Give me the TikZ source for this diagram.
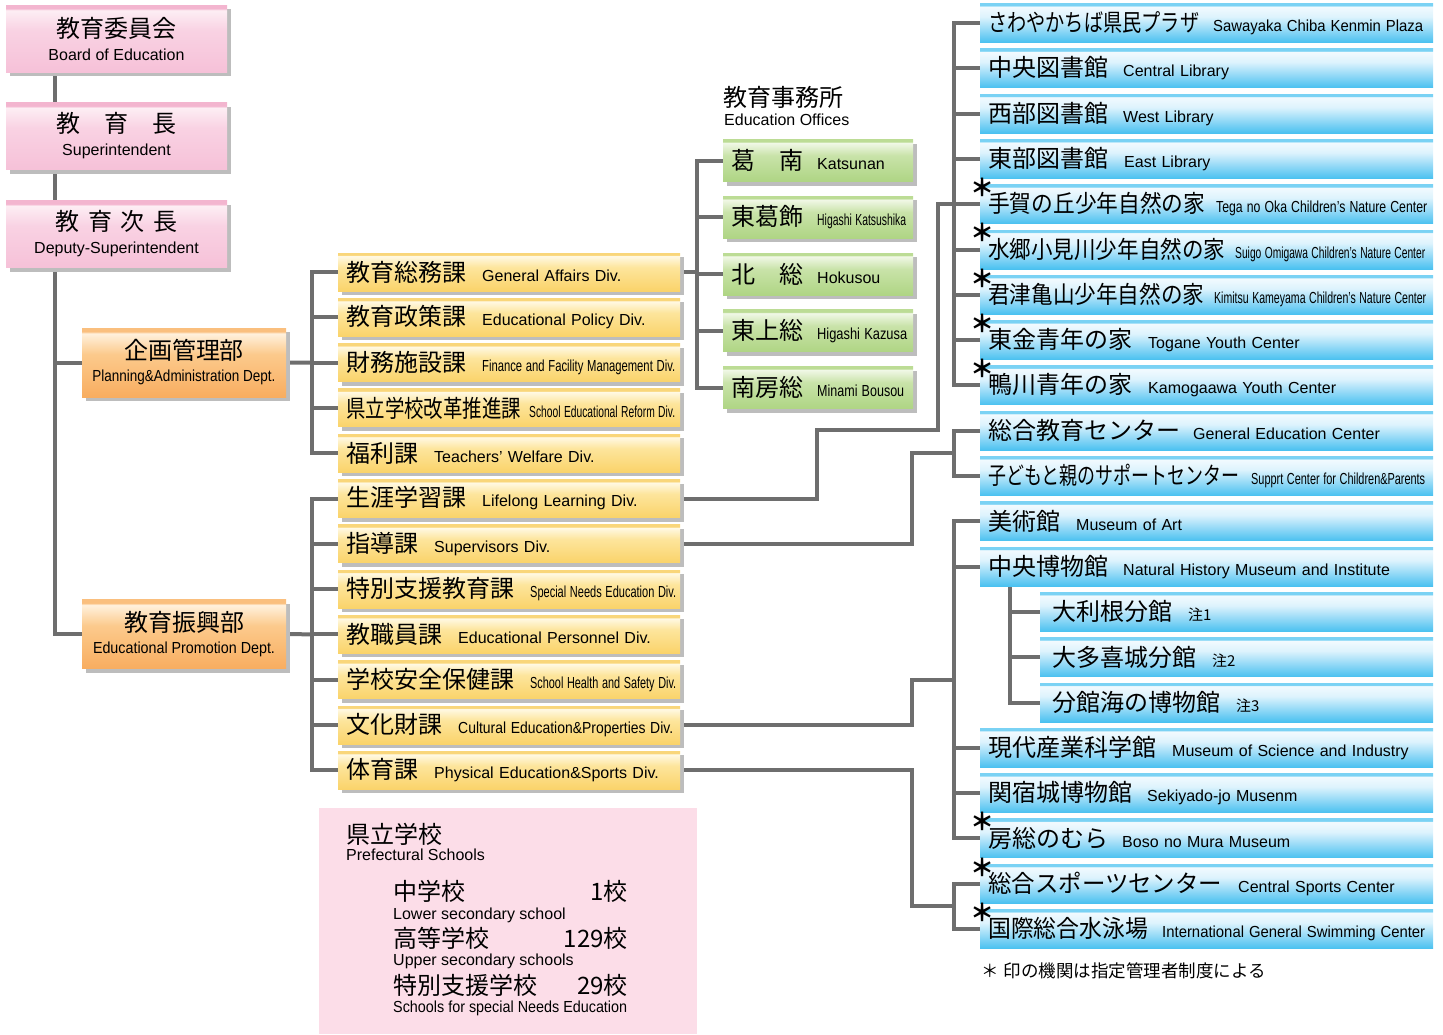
\documentclass[tikz,border=0pt]{standalone}
\usepackage{fontspec}
\usepackage{graphicx}
\usepackage{tikz}
\usetikzlibrary{shadows}
\setmainfont{Liberation Sans}
\newfontfamily\jpfont{Noto Sans CJK JP}

\definecolor{linegray}{HTML}{6E6E6E}
\definecolor{shadowgray}{HTML}{BDBDBD}
\definecolor{schoolpink}{HTML}{FCDDE8}
\definecolor{pinkA}{HTML}{F6C1D8}\definecolor{pinkB}{HTML}{F9D2E3}\definecolor{pinkC}{HTML}{FDEEF4}\definecolor{pinkD}{HTML}{F3B5CF}
\definecolor{orangeA}{HTML}{F8AD60}\definecolor{orangeB}{HTML}{FCCA8C}\definecolor{orangeC}{HTML}{FFF1DD}\definecolor{orangeD}{HTML}{FABF7E}
\definecolor{yellowA}{HTML}{FAD36A}\definecolor{yellowB}{HTML}{FDE59C}\definecolor{yellowC}{HTML}{FFF9E4}\definecolor{yellowD}{HTML}{F9D67A}
\definecolor{greenA}{HTML}{AFD584}\definecolor{greenB}{HTML}{C9E3A9}\definecolor{greenC}{HTML}{F1F8E7}\definecolor{greenD}{HTML}{BCDC95}
\definecolor{blueA}{HTML}{4AC1F0}\definecolor{blueB}{HTML}{8DD7F6}\definecolor{blueC}{HTML}{DDF3FD}\definecolor{blueE}{HTML}{F2FAFE}\definecolor{blueD}{HTML}{7AD2F4}

% bottom, middle, light top, top stripe
\newcommand\boxshading[5]{\pgfdeclareverticalshading{#1}{100bp}{color(0bp)=(#2); color(25bp)=(#2); color(56bp)=(#3); color(71bp)=(#4); color(72.5bp)=(#5); color(100bp)=(#5)}}
\boxshading{pinkshade}{pinkA}{pinkB}{pinkC}{pinkD}
\boxshading{orangeshade}{orangeA}{orangeB}{orangeC}{orangeD}
\boxshading{yellowshade}{yellowA}{yellowB}{yellowC}{yellowD}
\boxshading{greenshade}{greenA}{greenB}{greenC}{greenD}
\pgfdeclareverticalshading{blueshade}{100bp}{color(0bp)=(blueA); color(25bp)=(blueA); color(40bp)=(blueB); color(58bp)=(blueC); color(71bp)=(blueE); color(72.5bp)=(blueD); color(100bp)=(blueD)}

\newcommand\jp[1]{{\jpfont\fontsize{24}{24}\selectfont #1}}
\newcommand\en[1]{\mbox{\fontsize{16}{18}\selectfont #1}}
\newcommand\jw[2]{\makebox[#1pt][l]{\jp{#2}}}
\newcommand\js[3]{\makebox[#1pt][l]{\resizebox{#2pt}{\height}{\jp{#3}}}}
\newcommand\ew[2]{\resizebox{#1pt}{\height}{\en{#2}}}
\newcommand\chu[1]{{\jpfont\fontsize{15}{15}\selectfont #1}}

\pgfdeclarelayer{bg}
\pgfsetlayers{bg,main}

\tikzset{
  conn/.style={draw=linegray, line width=4pt},
  boxshadow/.style={drop shadow={shadow xshift=4pt, shadow yshift=-4pt, fill=shadowgray, opacity=1}},
  pinkbox/.style={shade, shading=pinkshade, boxshadow, minimum width=221pt, minimum height=67pt, inner sep=0pt, align=center, font=\fontsize{16}{23}\selectfont},
  deptbox/.style={shade, shading=orangeshade, boxshadow, minimum width=204pt, minimum height=69pt, inner sep=0pt, align=center, font=\fontsize{16}{22}\selectfont},
  divbox/.style={shade, shading=yellowshade, boxshadow, anchor=west, text width=326pt, minimum height=38pt, inner xsep=8pt, inner ysep=0pt, align=left, font=\fontsize{16}{18}\selectfont},
  officebox/.style={shade, shading=greenshade, boxshadow, anchor=west, text width=174pt, minimum height=42pt, inner xsep=8pt, inner ysep=0pt, align=left, font=\fontsize{16}{18}\selectfont},
  orgbox/.style={shade, shading=blueshade, anchor=west, text width=437pt, minimum height=39pt, inner xsep=8pt, inner ysep=0pt, align=left, font=\fontsize{16}{18}\selectfont},
  subbox/.style={orgbox, text width=369pt, inner xsep=12pt},
  ast/.style={inner sep=0pt, font=\jpfont\bfseries\fontsize{24}{24}\selectfont},
  schtext/.style={anchor=base west, inner sep=0pt},
  schnum/.style={anchor=base east, inner sep=0pt},
}

\begin{document}
\begin{tikzpicture}[x=1pt,y=-1pt]
\useasboundingbox (0,0) rectangle (1443,1034);

% executives
\node[pinkbox] (board) at (116.5,38.5) {\jp{教育委員会}\\ \en{Board of Education}};
\node[pinkbox] (super) at (116.5,136) {\jp{教　育　長}\\ \en{Superintendent}};
\node[pinkbox] (deputy) at (116.5,234) {\jp{教\hspace{8.5pt}育\hspace{8.5pt}次\hspace{8.5pt}長}\\ \en{Deputy-Superintendent}};

% departments
\node[deptbox] (plan) at (184,362.5) {\jp{企画管理部}\\ \ew{183}{Planning\&Administration Dept.}};
\node[deptbox] (promo) at (184,634) {\jp{教育振興部}\\ \ew{182}{Educational Promotion Dept.}};

% divisions
\node[divbox] (d1) at (338,272) {\jw{136}{教育総務課}\en{General Affairs Div.}};
\node[divbox] (d2) at (338,317.3) {\jw{136}{教育政策課}\en{Educational Policy Div.}};
\node[divbox] (d3) at (338,362.6) {\jw{136}{財務施設課}\ew{193}{Finance and Facility Management Div.}};
\node[divbox] (d4) at (338,407.9) {\js{183}{175}{県立学校改革推進課}\ew{146}{School Educational Reform Div.}};
\node[divbox] (d5) at (338,453.2) {\jw{88}{福利課}\en{Teachers' Welfare Div.}};
\node[divbox] (d6) at (338,498.5) {\jw{136}{生涯学習課}\en{Lifelong Learning Div.}};
\node[divbox] (d7) at (338,543.8) {\jw{88}{指導課}\en{Supervisors Div.}};
\node[divbox] (d8) at (338,589.1) {\jw{184}{特別支援教育課}\ew{146}{Special Needs Education Div.}};
\node[divbox] (d9) at (338,634.4) {\jw{112}{教職員課}\en{Educational Personnel Div.}};
\node[divbox] (d10) at (338,679.7) {\jw{184}{学校安全保健課}\ew{146}{School Health and Safety Div.}};
\node[divbox] (d11) at (338,725) {\jw{112}{文化財課}\ew{215}{Cultural Education\&Properties Div.}};
\node[divbox] (d12) at (338,770.3) {\jw{88}{体育課}\en{Physical Education\&Sports Div.}};

% education offices
\node[anchor=base west, inner sep=0pt] (offices) at (723,106) {\jp{教育事務所}};
\node[anchor=base west, inner sep=0pt] (officesE) at (724,125) {\en{Education Offices}};
\node[officebox] (o1) at (723,160.5) {\jw{86}{葛　南}\en{Katsunan}};
\node[officebox] (o2) at (723,217.3) {\jw{86}{東葛飾}\ew{89}{Higashi Katsushika}};
\node[officebox] (o3) at (723,274) {\jw{86}{北　総}\en{Hokusou}};
\node[officebox] (o4) at (723,330.8) {\jw{86}{東上総}\ew{90}{Higashi Kazusa}};
\node[officebox] (o5) at (723,387.5) {\jw{86}{南房総}\ew{87}{Minami Bousou}};

% institutions
\node[orgbox] (b1) at (980,23) {\js{225}{211}{さわやかちば県民プラザ}\ew{210}{Sawayaka Chiba Kenmin Plaza}};
\node[orgbox] (b2) at (980,68.3) {\jw{135}{中央図書館}\en{Central Library}};
\node[orgbox] (b3) at (980,113.6) {\jw{135}{西部図書館}\en{West Library}};
\node[orgbox] (b4) at (980,158.9) {\jw{136}{東部図書館}\en{East Library}};
\node[orgbox] (b5) at (980,204.2) {\js{228}{217}{手賀の丘少年自然の家}\ew{211}{Tega no Oka Children's Nature Center}};
\node[orgbox] (b6) at (980,249.5) {\js{247}{237}{水郷小見川少年自然の家}\ew{190}{Suigo Omigawa Children's Nature Center}};
\node[orgbox] (b7) at (980,294.8) {\js{226}{216}{君津亀山少年自然の家}\ew{212}{Kimitsu Kameyama Children's Nature Center}};
\node[orgbox] (b8) at (980,340.1) {\jw{160}{東金青年の家}\en{Togane Youth Center}};
\node[orgbox] (b9) at (980,385.4) {\jw{160}{鴨川青年の家}\en{Kamogaawa Youth Center}};
\node[orgbox] (b10) at (980,430.7) {\jw{205}{総合教育センター}\en{General Education Center}};
\node[orgbox] (b11) at (980,476) {\js{263}{251}{子どもと親のサポートセンター}\ew{174}{Supprt Center for Children\&Parents}};
\node[orgbox] (b12) at (980,521.3) {\jw{88}{美術館}\en{Museum of Art}};
\node[orgbox] (b13) at (980,566.6) {\jw{135}{中央博物館}\en{Natural History Museum and Institute}};
\node[subbox] (b14) at (1040,611.9) {\jw{136}{大利根分館}\chu{注1}};
\node[subbox] (b15) at (1040,657.2) {\jw{160}{大多喜城分館}\chu{注2}};
\node[subbox] (b16) at (1040,702.5) {\jw{184}{分館海の博物館}\chu{注3}};
\node[orgbox] (b17) at (980,747.8) {\jw{184}{現代産業科学館}\en{Museum of Science and Industry}};
\node[orgbox] (b18) at (980,793.1) {\jw{159}{関宿城博物館}\en{Sekiyado-jo Musenm}};
\node[orgbox] (b19) at (980,838.4) {\jw{134}{房総のむら}\en{Boso no Mura Museum}};
\node[orgbox] (b20) at (980,883.7) {\js{250}{234}{総合スポーツセンター}\en{Central Sports Center}};
\node[orgbox] (b21) at (980,929) {\js{174}{160}{国際総合水泳場}\ew{263}{International General Swimming Center}};

% designated-manager marks
\foreach \i in {5,6,7,8,9,19,20,21}
  \node[ast] (a\i) at ([xshift=2pt,yshift=-3pt]b\i.north west) {＊};
\node[anchor=base west, inner sep=0pt] (fnote) at (981,977) {\jpfont\fontsize{17.5}{18}\selectfont ＊\hspace{5pt}印の機関は指定管理者制度による};

% prefectural schools
\node[fill=schoolpink, anchor=north west, minimum width=378pt, minimum height=226pt, inner sep=0pt] (schools) at (319,808) {};
\node[schtext] (sch) at (346,843) {\jp{県立学校}};
\node[schtext] (schE) at (346,860) {\en{Prefectural Schools}};
\node[schtext] (lower) at (393,900) {\jp{中学校}};
\node[schnum] (lowerN) at (628,900) {\jp{1校}};
\node[schtext] (lowerE) at (393,919) {\en{Lower secondary school}};
\node[schtext] (upper) at (393,947) {\jp{高等学校}};
\node[schnum] (upperN) at (628,947) {\jp{129校}};
\node[schtext] (upperE) at (393,965) {\en{Upper secondary schools}};
\node[schtext] (special) at (393,994) {\jp{特別支援学校}};
\node[schnum] (specialN) at (628,994) {\jp{29校}};
\node[schtext] (specialE) at (393,1012) {\ew{234}{Schools for special Needs Education}};

\begin{pgfonlayer}{bg}
% spine
\draw[conn] ([xshift=49pt]board.south west) |- (promo.west);
\draw[conn] ([xshift=-27pt]plan.west) -- (plan.west);
% divisions
\draw[conn] (d1.west) -| ([xshift=-26pt]d5.west) -- (d5.west);
\foreach \i in {2,3,4} \draw[conn] ([xshift=-26pt]d\i.west) -- (d\i.west);
\draw[conn] (plan.east) -- ([xshift=-26pt]d3.west);
\draw[conn] (d6.west) -| ([xshift=-26pt]d12.west) -- (d12.west);
\foreach \i in {7,...,11} \draw[conn] ([xshift=-26pt]d\i.west) -- (d\i.west);
\draw[conn] (promo.east) -- ([xshift=-26pt]d9.west);
% offices
\draw[conn] (o1.west) -| ([xshift=-26pt]o5.west) -- (o5.west);
\foreach \i in {2,3,4} \draw[conn] ([xshift=-26pt]o\i.west) -- (o\i.west);
\draw[conn] (d1.east) -- ++(17,0);
% institutions
\draw[conn] (b1.west) -| ([xshift=-26pt]b9.west) -- (b9.west);
\foreach \i in {2,...,8} \draw[conn] ([xshift=-26pt]b\i.west) -- (b\i.west);
\draw[conn] (d6.east) -| (817,430) -| ([xshift=-42pt]b5.west) -- ([xshift=-26pt]b5.west);
\draw[conn] (b10.west) -| ([xshift=-26pt]b11.west) -- (b11.west);
\path ([xshift=-26pt]b10.west) -- ([xshift=-26pt]b11.west) coordinate[pos=.5] (jB);
\draw[conn] (d7.east) -| ([xshift=-42pt]jB) -- (jB);
\draw[conn] (b12.west) -| ([xshift=-26pt]b19.west) -- (b19.west);
\foreach \i in {13,17,18} \draw[conn] ([xshift=-26pt]b\i.west) -- (b\i.west);
\path ([xshift=-26pt]b13.west) -- ([xshift=-26pt]b17.west) coordinate[pos=.625] (jC);
\draw[conn] (d11.east) -| ([xshift=-42pt]jC) -- (jC);
\draw[conn] ([xshift=30pt]b13.south west) |- (b16.west);
\foreach \i in {14,15} \draw[conn] ([xshift=-30pt]b\i.west) -- (b\i.west);
\draw[conn] (b20.west) -| ([xshift=-26pt]b21.west) -- (b21.west);
\path ([xshift=-26pt]b20.west) -- ([xshift=-26pt]b21.west) coordinate[pos=.5] (jD);
\draw[conn] (d12.east) -| ([xshift=-42pt]jD) -- (jD);
\end{pgfonlayer}
\end{tikzpicture}
\end{document}
